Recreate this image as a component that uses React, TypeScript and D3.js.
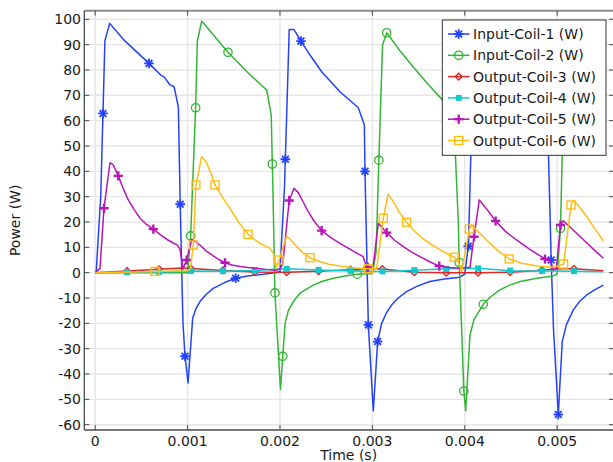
import React from "react";
import * as d3 from "d3";

// ---- data (time in ms, power in W) ----
const coil1Time = [0, 0.01, 0.06, 0.105, 0.157, 0.304, 0.582, 0.709, 0.745, 0.81, 0.853, 0.9, 0.92, 0.95, 0.972, 1.005, 1.055, 1.09, 1.134, 1.2, 1.278, 1.4, 1.52, 1.65, 1.82, 1.96, 2.0, 2.05, 2.1, 2.15, 2.227, 2.325, 2.451, 2.649, 2.848, 2.913, 2.92, 2.956, 3.01, 3.057, 3.1, 3.15, 3.21, 3.28, 3.37, 3.48, 3.62, 3.78, 3.95, 4.0, 4.04, 4.1, 4.15, 4.4, 4.65, 4.87, 4.9, 4.935, 4.96, 5.012, 5.055, 5.1, 5.175, 5.24, 5.32, 5.41, 5.5];
const coil1Power = [0, 0, 30, 91.6, 98.4, 92.1, 82.6, 78, 77.3, 74.1, 73.4, 65.5, 27, -20, -33, -43.5, -18, -14.2, -11.4, -8.6, -6.2, -3.9, -2.2, -1.3, -0.6, 0.1, 0.5, 35, 96, 96, 91.4, 85.9, 79.3, 71.4, 65.1, 58.3, 40, -20.6, -54.5, -27.2, -20, -16, -12.7, -10, -7.5, -5.4, -3.5, -2.5, -1.8, -0.5, 11, 95, 95.5, 82, 72, 64, 55, 5, -22, -56, -27.2, -20.5, -14.7, -11.5, -8.8, -6.7, -4.9];
const coil1Markers = [0.084, 0.582, 0.92, 0.972, 1.52, 2.058, 2.227, 2.92, 2.956, 3.057, 4.038, 4.935, 5.012];

const coil2Time = [0, 1.0, 1.033, 1.087, 1.105, 1.152, 1.437, 1.65, 1.856, 1.905, 1.925, 1.945, 2.005, 2.03, 2.055, 2.09, 2.144, 2.22, 2.36, 2.46, 2.577, 2.7, 2.837, 3.0, 3.04, 3.07, 3.11, 3.155, 3.3, 3.44, 3.6, 3.75, 3.88, 3.93, 3.94, 3.99, 4.01, 4.056, 4.1, 4.2, 4.28, 4.38, 4.48, 4.6, 4.78, 4.96, 5.0, 5.036, 5.08, 5.13, 5.3, 5.5];
const coil2Power = [0, 0, 14.5, 65.1, 91.2, 99.3, 87, 79, 72.1, 62.2, 30, -8, -46, -33, -20, -15, -11.4, -8, -4.9, -3.4, -2.2, -1.3, -0.6, -0.3, 8, 44.4, 89.9, 94.7, 87.5, 81.3, 74.5, 68.5, 62, 20, 4, -46.7, -54.5, -24.6, -18.5, -12.5, -9.5, -6.8, -5, -3.5, -2.2, -1.3, -0.5, 17.5, 85, 95, 86, 77];
const coil2Markers = [1.033, 1.087, 1.437, 1.917, 1.945, 2.03, 2.837, 3.07, 3.155, 3.94, 3.99, 4.2, 5.036];

const coil3Time = [0, 0.345, 0.691, 0.95, 1.036, 1.382, 1.727, 2.0, 2.073, 2.418, 2.764, 2.95, 3.109, 3.455, 3.8, 4.145, 4.491, 4.836, 5.0, 5.182, 5.5];
const coil3Power = [0, 0.7, 1.3, 1.8, 1.6, 0.9, 0.3, 0.2, 0.2, 0.6, 1.2, 1.6, 1.4, 0.2, 0, 0, 0.2, 1.0, 1.5, 1.5, 0.8];
const coil3Markers = [0.345, 0.691, 1.036, 1.382, 1.727, 2.073, 2.418, 2.764, 3.109, 3.455, 3.8, 4.145, 4.491, 4.836, 5.182];

const coil4Time = [0, 0.345, 0.691, 1.036, 1.382, 1.727, 2.0, 2.073, 2.418, 2.764, 3.109, 3.455, 3.8, 4.0, 4.145, 4.491, 4.836, 5.182, 5.5];
const coil4Power = [0, 0.2, 0.3, 0.7, 0.6, 0.9, 1.4, 1.5, 1.1, 0.7, 0.5, 1.0, 1.5, 1.6, 1.7, 0.8, 0.7, 0.6, 0.4];
const coil4Markers = [0.345, 0.691, 1.036, 1.382, 1.727, 2.073, 2.418, 2.764, 3.109, 3.455, 3.8, 4.145, 4.491, 4.836, 5.182];

const coil5Time = [0, 0.052, 0.095, 0.16, 0.196, 0.25, 0.3, 0.358, 0.42, 0.485, 0.55, 0.629, 0.7, 0.773, 0.84, 0.889, 0.918, 0.95, 0.99, 1.045, 1.09, 1.134, 1.2, 1.278, 1.34, 1.405, 1.48, 1.567, 1.65, 1.747, 1.85, 1.96, 2.0, 2.03, 2.1, 2.152, 2.2, 2.25, 2.3, 2.37, 2.451, 2.55, 2.649, 2.77, 2.9, 2.938, 2.97, 3.01, 3.064, 3.1, 3.155, 3.24, 3.335, 3.42, 3.515, 3.62, 3.724, 3.83, 3.948, 4.056, 4.1, 4.157, 4.2, 4.25, 4.334, 4.44, 4.56, 4.7, 4.868, 4.93, 4.96, 4.99, 5.036, 5.066, 5.15, 5.25, 5.37, 5.5];
const coil5Power = [0, 1.7, 25.4, 43.4, 42.5, 38.2, 33.5, 28.7, 25, 21.5, 19.2, 17.2, 15.1, 13.2, 11.8, 10.9, 9.2, 1.5, 5, 13.2, 12.2, 10.9, 8.6, 6.6, 5.1, 3.9, 3.0, 2.4, 2.0, 1.7, 1.3, 1.0, 1.5, 3.5, 28.5, 33.3, 31.5, 28, 24.5, 20.3, 16.6, 13.8, 11.6, 9, 6.3, 2.1, 2, 3, 19.5, 18, 15.8, 12.8, 10.3, 8.2, 6.3, 4.3, 2.6, 2, 1.7, 2.1, 14.2, 28.7, 26.8, 24.5, 20.4, 16.3, 12.9, 9.3, 5.4, 4.5, 1.0, 1.5, 18.8, 20.5, 17.6, 14.2, 10, 5.7];
const coil5Markers = [0.095, 0.25, 0.629, 0.99, 1.405, 2.1, 2.451, 2.95, 3.155, 3.724, 4.1, 4.334, 4.868, 5.036];

const coil6Time = [0, 0.647, 1.0, 1.03, 1.062, 1.09, 1.152, 1.2, 1.25, 1.297, 1.38, 1.459, 1.55, 1.654, 1.77, 1.892, 1.928, 1.957, 1.99, 2.072, 2.12, 2.18, 2.25, 2.325, 2.433, 2.53, 2.65, 2.78, 2.9, 3.0, 3.046, 3.118, 3.17, 3.22, 3.29, 3.37, 3.46, 3.54, 3.62, 3.75, 3.886, 3.93, 3.966, 4.05, 4.075, 4.15, 4.237, 4.36, 4.48, 4.62, 4.78, 4.96, 5.07, 5.15, 5.175, 5.25, 5.32, 5.41, 5.5];
const coil6Power = [0, 0.5, 0.8, 1.5, 10.9, 34.6, 45.8, 43.8, 39.5, 34.6, 29.6, 25.4, 20, 15.1, 11.8, 9.6, 7.7, 1.7, 5, 14.5, 12.8, 10.3, 7.8, 5.9, 4.3, 3.3, 2.6, 2, 1.6, 1.5, 1.5, 21.5, 31, 28.5, 24, 19.9, 16.2, 13.6, 11.6, 8.6, 6.1, 4.3, 0.4, 17.2, 18.8, 16, 12.9, 8.6, 5.4, 3.7, 2.6, 2.1, 3.4, 26.7, 28.7, 25.5, 22.1, 17.2, 12.6];
const coil6Markers = [0.647, 1.062, 1.09, 1.297, 1.654, 1.99, 2.325, 2.956, 3.118, 3.37, 3.886, 4.05, 4.48, 5.07, 5.15];

const seriesNames = ["Input-Coil-1 (W)", "Input-Coil-2 (W)", "Output-Coil-3 (W)", "Output-Coil-4 (W)", "Output-Coil-5 (W)", "Output-Coil-6 (W)"];
const xTickValues = [0, 0.001, 0.002, 0.003, 0.004, 0.005];
const xTickLabels = ["0", "0.001", "0.002", "0.003", "0.004", "0.005"];
const yTickValues = [-60, -50, -40, -30, -20, -10, 0, 10, 20, 30, 40, 50, 60, 70, 80, 90, 100];

// ---- styles ----
const colors = ["#2342ff", "#33b535", "#dd2626", "#14c8cc", "#b814b8", "#ffbd14"];
const markerKinds = ["star", "circle", "diamond", "fsquare", "plus", "square"];
const FONT = "DejaVu Sans, sans-serif";

const W = 613, H = 462;
const P = { left: 84.3, right: 614, top: 10.7, bottom: 430 };

const x = d3.scaleLinear().domain([-0.000118, 0.005615]).range([P.left, P.right]);
const y = d3.scaleLinear().domain([-62.1, 103.4]).range([P.bottom, P.top]);

type S = { t: number[]; v: number[]; m: number[] };
const series: S[] = [
  { t: coil1Time, v: coil1Power, m: coil1Markers },
  { t: coil2Time, v: coil2Power, m: coil2Markers },
  { t: coil3Time, v: coil3Power, m: coil3Markers },
  { t: coil4Time, v: coil4Power, m: coil4Markers },
  { t: coil5Time, v: coil5Power, m: coil5Markers },
  { t: coil6Time, v: coil6Power, m: coil6Markers },
];

// position of a marker on its own polyline
function valueOn(s: S, tm: number) {
  const i = Math.max(1, Math.min(s.t.length - 1, d3.bisectLeft(s.t, tm)));
  const t0 = s.t[i - 1], t1 = s.t[i];
  const f = t1 === t0 ? 0 : (tm - t0) / (t1 - t0);
  return s.v[i - 1] + f * (s.v[i] - s.v[i - 1]);
}

function Marker({ kind, cx, cy, color }: { kind: string; cx: number; cy: number; color: string }) {
  switch (kind) {
    case "star": {
      const r = 4.8;
      const a = r * Math.SQRT1_2;
      return (
        <g stroke={color} strokeWidth={1.8}>
          <line x1={cx - r} y1={cy} x2={cx + r} y2={cy} />
          <line x1={cx} y1={cy - r} x2={cx} y2={cy + r} />
          <line x1={cx - a} y1={cy - a} x2={cx + a} y2={cy + a} />
          <line x1={cx - a} y1={cy + a} x2={cx + a} y2={cy - a} />
        </g>
      );
    }
    case "circle":
      return <circle cx={cx} cy={cy} r={4.2} fill="none" stroke={color} strokeWidth={1.3} />;
    case "diamond": {
      const r = 3.3;
      return <path d={`M${cx},${cy - r}L${cx + r},${cy}L${cx},${cy + r}L${cx - r},${cy}Z`} fill="none" stroke={color} strokeWidth={1.4} />;
    }
    case "fsquare":
      return <rect x={cx - 3} y={cy - 3} width={6} height={6} fill={color} />;
    case "plus": {
      const r = 4.6;
      return (
        <g stroke={color} strokeWidth={2.4}>
          <line x1={cx - r} y1={cy} x2={cx + r} y2={cy} />
          <line x1={cx} y1={cy - r} x2={cx} y2={cy + r} />
        </g>
      );
    }
    default:
      return <rect x={cx - 4} y={cy - 4} width={8} height={8} fill="none" stroke={color} strokeWidth={1.4} />;
  }
}

export default function App() {
  const pathFor = (s: S) =>
    d3
      .line<[number, number]>()
      .x((d) => x(d[0] / 1000))
      .y((d) => y(d[1]))(s.t.map((t, i) => [t, s.v[i]] as [number, number])) || "";

  const legend = { x: 442.3, y: 20, w: 163.7, h: 135.3, row0: 34, step: 21.3 };

  return (
    <svg width={W} height={H} style={{ position: "absolute", left: 0, top: 0, background: "#fff" }} fontFamily={FONT}>
      <defs>
        <clipPath id="plotClip">
          <rect x={P.left} y={P.top} width={P.right - P.left} height={P.bottom - P.top} />
        </clipPath>
      </defs>
      <rect x={0} y={0} width={W} height={H} fill="#fff" />
      {/* grid */}
      <g stroke="#e6e6e6" strokeWidth={1.4}>
        {xTickValues.map((v) => (
          <line key={"gx" + v} x1={x(v)} x2={x(v)} y1={P.top} y2={P.bottom} />
        ))}
        {yTickValues.map((v) => (
          <line key={"gy" + v} x1={P.left} x2={P.right} y1={y(v)} y2={y(v)} />
        ))}
      </g>
      {/* series */}
      <g clipPath="url(#plotClip)">
        {series.map((s, k) => (
          <g key={"s" + k}>
            <path d={pathFor(s)} fill="none" stroke={colors[k]} strokeWidth={1.5} strokeLinejoin="round" />
            {s.m.map((tm, j) => (
              <Marker key={j} kind={markerKinds[k]} cx={x(tm / 1000)} cy={y(valueOn(s, tm))} color={colors[k]} />
            ))}
          </g>
        ))}
      </g>
      {/* frame */}
      <line x1={P.left} x2={P.right} y1={P.top} y2={P.top} stroke="#8c8c8c" strokeWidth={2} />
      <line x1={P.right} x2={P.right} y1={P.top} y2={P.bottom} stroke="#8c8c8c" strokeWidth={2} />
      <line x1={P.left} x2={P.left} y1={P.top} y2={P.bottom} stroke="#4a4a4a" strokeWidth={1.3} />
      <line x1={P.left} x2={P.right} y1={P.bottom} y2={P.bottom} stroke="#4a4a4a" strokeWidth={1.3} />
      {/* ticks */}
      <g stroke="#4a4a4a" strokeWidth={1}>
        {xTickValues.map((v) => (
          <g key={"tx" + v}>
            <line x1={x(v)} x2={x(v)} y1={P.bottom} y2={P.bottom - 5} />
            <line x1={x(v)} x2={x(v)} y1={P.top} y2={P.top + 5} />
          </g>
        ))}
        {yTickValues.map((v) => (
          <g key={"ty" + v}>
            <line x1={P.left} x2={P.left + 5} y1={y(v)} y2={y(v)} />
            <line x1={P.right} x2={P.right - 5} y1={y(v)} y2={y(v)} />
          </g>
        ))}
      </g>
      {/* tick labels */}
      <g fontSize={14} fill="#1a1a1a">
        {xTickValues.map((v, i) => (
          <text key={"lx" + v} x={x(v)} y={446} textAnchor="middle">
            {xTickLabels[i]}
          </text>
        ))}
        {yTickValues.map((v) => (
          <text key={"ly" + v} x={81} y={y(v) + 5} textAnchor="end">
            {String(v)}
          </text>
        ))}
      </g>
      {/* axis titles */}
      <text x={(P.left + P.right) / 2 - 0.5} y={459.5} textAnchor="middle" fontSize={14} fill="#1a1a1a">
        Time (s)
      </text>
      <text transform={`translate(20,${(P.top + P.bottom) / 2}) rotate(-90)`} textAnchor="middle" fontSize={14} fill="#1a1a1a">
        Power (W)
      </text>
      {/* legend */}
      <g>
        <rect x={legend.x} y={legend.y} width={legend.w} height={legend.h} fill="#fff" stroke="#333" strokeWidth={1} />
        {seriesNames.map((name, k) => {
          const cy = legend.row0 + k * legend.step;
          return (
            <g key={"lg" + k}>
              <line x1={448} x2={469.5} y1={cy} y2={cy} stroke={colors[k]} strokeWidth={1.5} />
              <Marker kind={markerKinds[k]} cx={458.7} cy={cy} color={colors[k]} />
              <text x={473} y={cy + 5} fontSize={14} fill="#1a1a1a">
                {name}
              </text>
            </g>
          );
        })}
      </g>
    </svg>
  );
}
